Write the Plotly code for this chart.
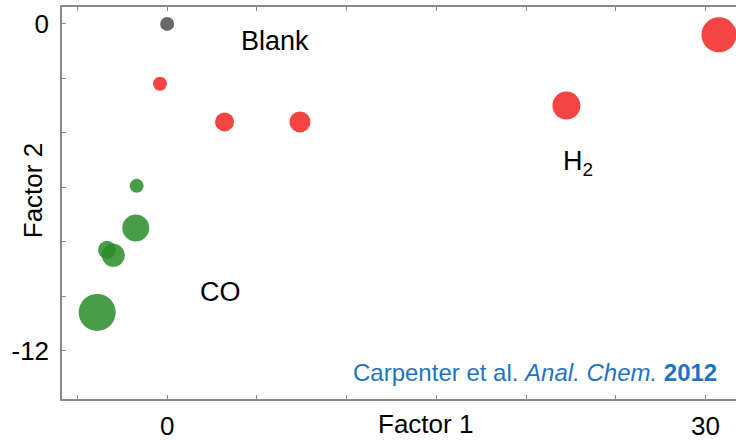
import plotly.graph_objects as go

# PCA-style scores of the sensor array responses
blank_x = [0.0]
blank_y = [0.0]
blank_size = [14]

h2_x = [-0.4, 3.2, 7.4, 22.25, 30.75]
h2_y = [-2.2, -3.6, -3.6, -3.0, -0.4]
h2_size = [14, 19, 21, 28, 35]

co_x = [-1.7, -1.75, -3.35, -3.0, -3.9]
co_y = [-5.95, -7.5, -8.3, -8.5, -10.6]
co_size = [14, 27, 18, 23, 37]

x_ticks = [0, 30]
x_tick_text = ["0", "30"]
y_ticks = [0, -12]
y_tick_text = ["0", "-12"]

font_family = "Liberation Sans, Arial, sans-serif"
axis_grey = "#8a8a8a"

fig = go.Figure()
fig.add_trace(go.Scatter(x=co_x, y=co_y, mode="markers",
                         marker=dict(size=co_size, color="rgb(42,140,40)", opacity=0.85,
                                     line=dict(width=0))))
fig.add_trace(go.Scatter(x=h2_x, y=h2_y, mode="markers",
                         marker=dict(size=h2_size, color="rgb(244,58,58)", opacity=0.95,
                                     line=dict(width=0))))
fig.add_trace(go.Scatter(x=blank_x, y=blank_y, mode="markers",
                         marker=dict(size=blank_size, color="#2a2a2a",
                                     line=dict(width=0))))

label_font = dict(family=font_family, size=27, color="black")
fig.add_annotation(x=6.0, y=-0.62, text="Blank", showarrow=False, font=label_font)
fig.add_annotation(x=22.9, y=-5.1, text="H<sub>2</sub>", showarrow=False, font=label_font)
fig.add_annotation(x=3.0, y=-9.85, text="CO", showarrow=False, font=label_font)

fig.add_annotation(xref="paper", yref="paper", x=0.975, y=0.068,
                   xanchor="right", yanchor="middle",
                   text="Carpenter et al. <i>Anal. Chem.</i> <b>2012</b>",
                   showarrow=False,
                   font=dict(family=font_family, size=24, color="#1f74c2"))

# axis titles
fig.add_annotation(xref="paper", yref="paper", x=0.54, y=0, yshift=-25,
                   text="Factor 1", showarrow=False, yanchor="middle",
                   font=dict(family=font_family, size=26, color="black"))
fig.add_annotation(xref="paper", yref="paper", x=0, xshift=-29, y=0.53,
                   xanchor="center", yanchor="middle",
                   text="Factor 2", showarrow=False, textangle=-90,
                   font=dict(family=font_family, size=26, color="black"))

tick_font = dict(family=font_family, size=26, color="black")

fig.update_xaxes(range=[-5.86, 31.7], tickmode="array", tickvals=x_ticks,
                 ticktext=x_tick_text, ticklabelstandoff=3,
                 showgrid=False, zeroline=False, showline=True, mirror="ticks",
                 linecolor=axis_grey, linewidth=1.5, ticks="inside", ticklen=4,
                 tickcolor=axis_grey, tickfont=tick_font,
                 minor=dict(dtick=5, tick0=0, ticks="inside", ticklen=4,
                            tickcolor=axis_grey, showgrid=False))
fig.update_yaxes(range=[-13.78, 0.62], tickmode="array", tickvals=y_ticks,
                 ticktext=y_tick_text, ticklabelstandoff=6,
                 showgrid=False, zeroline=False, showline=True, mirror=False,
                 linecolor=axis_grey, linewidth=1.5, ticks="inside", ticklen=4,
                 tickcolor=axis_grey, tickfont=tick_font,
                 minor=dict(dtick=2, tick0=0, ticks="inside", ticklen=4,
                            tickcolor=axis_grey, showgrid=False))

fig.update_layout(width=736, height=441, showlegend=False,
                  margin=dict(l=62, r=0, t=7, b=39),
                  plot_bgcolor="white", paper_bgcolor="white")

fig.write_html("out.html")
